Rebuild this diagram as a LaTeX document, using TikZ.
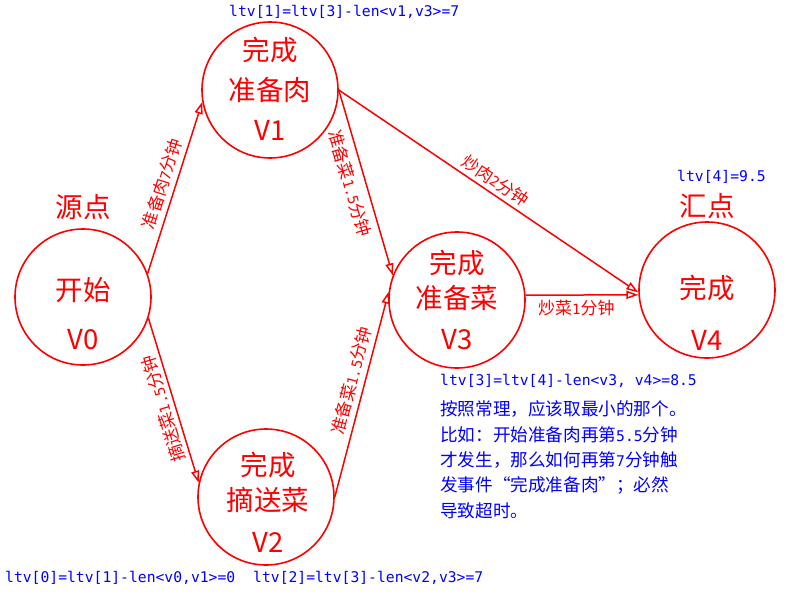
\documentclass[tikz,border=0pt]{standalone}
\usepackage{fontspec}
\setmainfont{Noto Sans CJK SC}
\newfontfamily\cjk{Noto Sans CJK SC}
\newfontfamily\monofnt{DejaVu Sans Mono}
\usetikzlibrary{arrows.meta}
\newcommand\zh[1]{{\cjk\fontsize{17.6}{25.5}\selectfont #1}}
\newcommand\lat[1]{{\monofnt\fontsize{14.1}{17}\selectfont #1}}
\begin{document}
\begin{tikzpicture}[x=1pt,y=-1pt,
  vtx/.style={circle, draw=red, line width=1.6pt, minimum size=136pt, inner sep=0pt},
  rtxt/.style={text=red, font=\cjk\fontsize{27.5}{27.5}\selectfont, inner sep=0pt},
  arr/.style={draw=red, line width=1.5pt, -{Triangle[open, length=12pt, width=8pt]}},
  lab/.style={text=red, font=\cjk\fontsize{17}{17}\selectfont, inner sep=2pt},
  note/.style={text=blue, font=\monofnt\fontsize{14.7}{25.5}\selectfont, inner sep=0pt, anchor=west},
]
\useasboundingbox (0,0) rectangle (800,600);

% vertices
\node[vtx] (v0) at (83,297) {};
\node[vtx] (v1) at (270,90) {};
\node[vtx] (v2) at (266,497) {};
\node[vtx] (v3) at (457,300) {};
\node[vtx] (v4) at (707,290) {};

% texts inside vertices
\node[rtxt] (t0a) at (83,290) {开始};
\node[rtxt] (t0b) at (83,340) {V0};
\node[rtxt] (t1a) at (270,50) {完成};
\node[rtxt] (t1b) at (270,90) {准备肉};
\node[rtxt] (t1c) at (270,130) {V1};
\node[rtxt] (t2a) at (268,465) {完成};
\node[rtxt] (t2b) at (268,500) {摘送菜};
\node[rtxt] (t2c) at (268,542) {V2};
\node[rtxt] (t3a) at (457,263) {完成};
\node[rtxt] (t3b) at (457,298) {准备菜};
\node[rtxt] (t3c) at (457,340) {V3};
\node[rtxt] (t4a) at (707,288) {完成};
\node[rtxt] (t4b) at (707,340) {V4};

% source / sink titles
\node[rtxt] (src) at (83,207) {源点};
\node[rtxt] (snk) at (707,206) {汇点};

% edges
\draw[arr] (v0.20) -- node[lab, sloped, above=3pt] {准备肉\lat{7}分钟} (v1.190);
\draw[arr] (v0.-18) -- (v2.168);
\path (v2.168) -- node[lab, sloped, allow upside down, above=2pt, pos=0.47] {摘送菜\lat{1.5}分钟} (v0.-18);
\draw[arr] (v1.0) -- node[lab, sloped, below=5pt, pos=0.48] {准备菜\lat{1.5}分钟} (v3.159);
\draw[arr] (v2.0) -- node[lab, sloped, above=3pt, pos=0.55] {准备菜\lat{1.5}分钟} (v3.173);
\draw[arr] (v1.0) -- node[lab, sloped, above=2pt] {炒肉\lat{2}分钟} (v4.182);
\draw[arr] (v3.4) -- node[lab, below=2pt, pos=0.45] {炒菜\lat{1}分钟} (v4.184);

% blue notes
\node[note] (n1) at (229,12) {ltv[1]=ltv[3]-len<v1,v3>=7};
\node[note] (n0) at (5,578) {ltv[0]=ltv[1]-len<v0,v1>=0};
\node[note] (n2) at (253,578) {ltv[2]=ltv[3]-len<v2,v3>=7};
\node[note] (n4) at (677,177) {ltv[4]=9.5};
\node[note] (n3) at (440,381) {ltv[3]=ltv[4]-len<v3, v4>=8.5};
\node[note] (p1) at (440,409) {\zh{按照常理，应该取最小的那个。}};
\node[note] (p2) at (440,434.5) {\zh{比如：开始准备肉再第}5.5\zh{分钟}};
\node[note] (p3) at (440,460) {\zh{才发生，那么如何再第}7\zh{分钟触}};
\node[note] (p4) at (440,485.5) {\zh{发事件“完成准备肉”；必然}};
\node[note] (p5) at (440,511) {\zh{导致超时。}};
\end{tikzpicture}
\end{document}
